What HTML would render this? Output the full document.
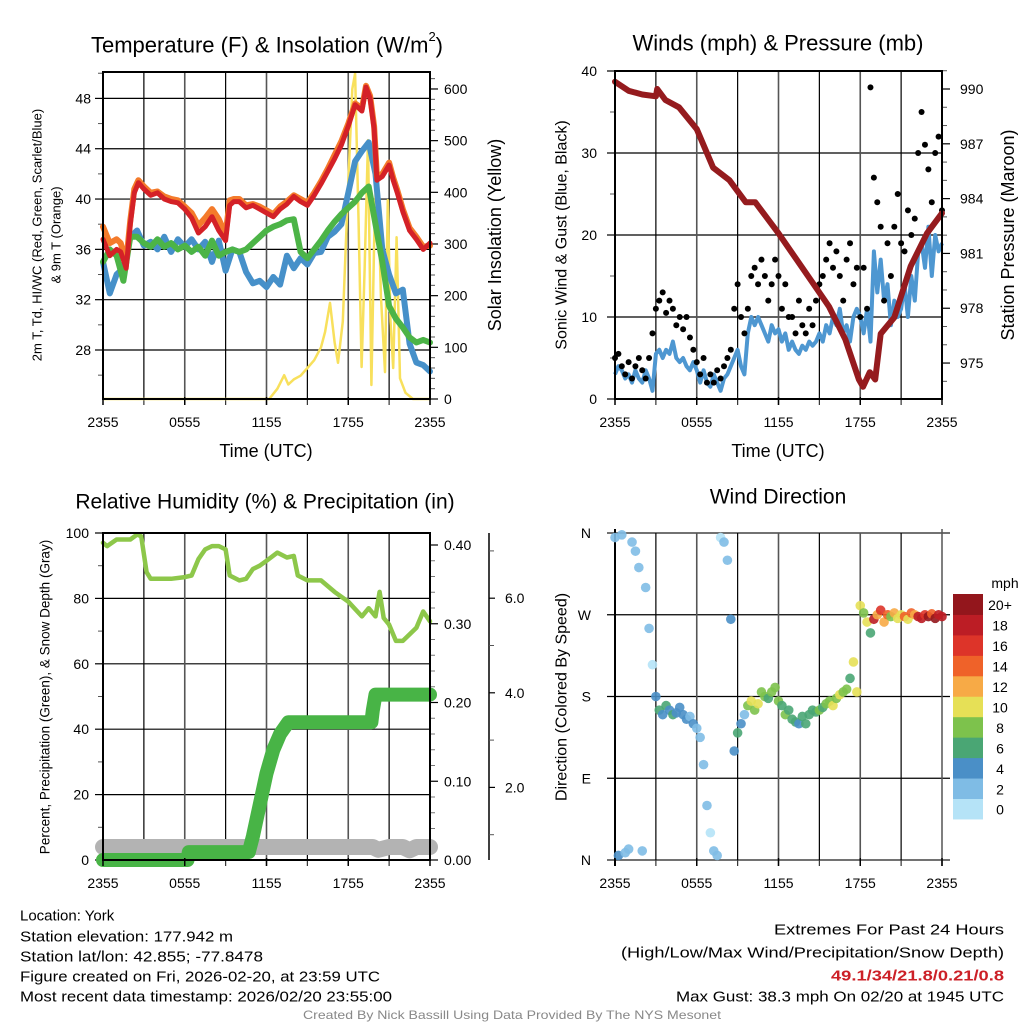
<!DOCTYPE html>
<html><head><meta charset="utf-8"><title>York Mesonet Meteogram</title>
<style>
html,body{margin:0;padding:0;background:#fff;}
svg{display:block;font-family:"Liberation Sans",Arial,sans-serif;}
</style></head>
<body>
<svg id="chart" width="1024" height="1024" viewBox="0 0 1024 1024" xmlns="http://www.w3.org/2000/svg"></svg>
<script>
// ---------- DATA ----------
const hoursQ = Array.from({length:97},(_,i)=>i*0.25);
const hoursH = Array.from({length:49},(_,i)=>i*0.5);
const timeTickLabels = ["2355","0555","1155","1755","2355"];

const tempTimes = [0,0.5,1,1.3,1.7,2,2.3,2.6,3,3.5,4,4.5,5,5.5,6,6.5,7,7.5,8,8.5,9,9.3,9.6,10,10.5,11,11.5,12,12.5,13,13.5,14,14.5,15,15.5,16,16.5,17,17.5,18,18.5,19,19.3,19.6,19.9,20.1,20.5,21,21.3,21.6,22,22.5,23,23.5,24];
const airTemp = [36.8,35.5,36,35.8,34.5,38,40.5,41.3,40.8,40.3,40.5,40,39.8,39.7,39.2,38.5,37.3,37.8,38.6,37.5,36.7,39.5,39.8,39.8,39.3,39.5,39.2,38.9,38.6,39.2,39.6,40.2,39.8,39.5,40.3,41.2,42.2,43.2,44.3,45.8,47.5,47,48.9,48,45.6,41.5,41.8,42.7,41.5,40.5,39,37.5,36.8,36,36.5];
const temp9m = [37.8,36.5,36.8,36.5,35,38.3,40.8,41.5,41,40.5,40.6,40.2,40,39.9,39.4,38.9,37.9,38.5,39.2,38.4,37.2,39.9,40,40,39.5,39.6,39.4,39.1,38.8,39.4,39.8,40.3,40,39.7,40.5,41.4,42.4,43.5,44.6,46,47.6,47.2,49,48.2,45.8,41.8,42,42.9,41.7,40.7,39.2,37.7,37,36.2,36.3];
const hiwc = [35,36,35.5,33.5,37,37,36.5,36.2,36.8,36.2,36.5,36,36.3,35.8,36.2,35.5,36.7,35.5,35.8,36,35.8,36,36.5,37,37.5,37.8,38,38.3,38.4,35.8,35.3,36,36.7,37.5,38.2,38.8,39.3,39.8,40.5,41,38,35,31.5,30.5,29.8,29,28.6,28.8,28.6];
const dewpt = [35,32.5,34,34.5,37,37.5,36.3,36.6,36,37,35.8,36.8,36.2,36.8,36,36.6,35,36.7,34.3,36,35.8,34.2,33.3,33.5,33,33.8,33.2,35.5,34.5,35.3,34.8,35.7,35.8,37,37.4,38,40.5,43,43.8,44.5,42,36,34,32.5,32.8,28.5,27,26.8,26.3];
const solarTimes = [0,12.2,12.8,13.3,13.6,14,14.5,15,15.5,16,16.3,16.66,17,17.25,17.6,18,18.3,18.5,18.75,18.98,19.2,19.45,19.7,19.9,20.1,20.4,20.7,20.9,21.1,21.3,21.55,21.8,22.2,22.75,24];
const solar = [0,0,20,46,28,38,45,60,75,100,130,186,110,70,150,420,600,630,350,62,250,501,27,300,488,200,52,385,150,60,313,40,12,0,0];
const tempTicks = [28,32,36,40,44,48];
const solarTicks = [0,100,200,300,400,500,600];

const pressTimes = [0,1,2,3,3.1,3.7,4.7,6,7.2,8.4,9.6,10.3,12,13.2,14.5,15.7,16.9,17.9,18.2,18.7,19.1,19.5,20.5,21.7,22.9,24];
const pressure = [990.4,989.9,989.7,989.6,990,989.4,989,987.8,985.7,985,983.8,983.8,982.1,980.8,979.4,978.1,976.3,974.1,973.7,974.5,974.1,976.6,977.5,980.3,982.1,983.2];
const windSpeed = [3,4,3.5,2.5,3,2,3.5,2.5,2,3.5,2.5,1,
 5.5,6,5,6,5.5,7,5,4.5,5,4,3.5,4.5,
 3.5,2,3.5,2,1.5,3,2,1,2.5,3,4,5,
 6,4,3,8,10,9,10,9,8,7,9,8,
 8.5,7,8,6,7,6,5.5,6.5,6,7,6.5,7,
 8,7,9,8,10,9,11,8,9,7,10,11,
 10,8,11,7,18,13,17,12,14,9,12,10,
 11,14,10,15,12,18,19,16,21,15,20,18,19];
const windGust = [5,5.5,4,3,4.5,2.5,4,5,3.5,2.5,5,8,
 11,12,13,10.5,12,11,9,10,8.5,10,7.5,6,
 4.5,3,5,2,3,2,3.5,2.5,4,5,6,11,
 14,10,8,11,15,16,14,17,15,12,14,17,
 15,11,14,10,10,8,12,9,8,11,9,12,
 14,15,17,19,16,18,15,12,17,19,14,16,
 10,16,11,38,27,24,21,12,19,15,21,25,
 19,18,23,20,22,30,35,31,28,24,30,32,23];
const windTicks = [0,10,20,30,40];
const pressTicks = [975,978,981,984,987,990];

const rhTimes = [0,0.3,1,2,2.5,2.8,3.2,3.5,4,5,6,6.5,7,7.5,8,8.5,9,9.3,10,10.5,11,11.5,12,12.8,13.5,14,14.3,15,16,17,18,19,19.5,20,20.3,20.6,21,21.5,22,23,23.5,24];
const rh = [97,96,98,98,99.5,99,88,86,86,86,86.5,87,92,95,96,96,95,87,85.5,86,89,90,91.5,94,92.5,93,87,85.5,85.5,82,79,74.5,77,74.5,82,74,72,67,67,71,76,73];
const precipTimes = [0,6.2,6.3,10.7,11,11.5,12,12.5,13,13.6,19.7,19.8,20,24];
const precip = [0,0,0.01,0.01,0.03,0.07,0.11,0.14,0.16,0.175,0.175,0.19,0.21,0.21];
const snowTimes = [0,4,8,12,16,19.8,20.2,21,22,22.5,23,24];
const snowDepth = [0.74,0.74,0.74,0.74,0.74,0.74,0.68,0.74,0.74,0.67,0.74,0.74];
const rhTicks = [0,20,40,60,80,100];
const precipTicks = ["0.00","0.10","0.20","0.30","0.40"];
const snowTicks = ["2.0","4.0","6.0"];

const windDir = [355,5,358,8,12,350,340,322,10,300,255,215,
 180,165,160,170,165,160,162,168,160,155,158,150,
 145,135,105,60,30,10,5,355,350,330,265,120,
 140,150,160,170,175,165,172,185,180,178,185,190,
 175,170,160,165,155,152,150,158,150,160,165,163,
 165,168,172,175,170,178,182,185,188,200,218,185,
 280,272,262,250,265,270,275,262,270,268,272,266,
 270,268,265,272,270,268,266,270,268,271,266,270,268];
const dirLabels = ["N","E","S","W","N"];
const speedBins = ["0","2","4","6","8","10","12","14","16","18","20+"];
const binColors = ["#b5e3f7","#7fbce5","#4a8fc7","#4aa674","#7dc24c","#e6e056","#f7aa46","#ef6229","#dd3429","#bc1d25","#93161c"];

// ---------- HELPERS ----------
const NS = "http://www.w3.org/2000/svg";
const svg = document.getElementById("chart");
function mk(tag, attrs, name, parent){
  const el = document.createElementNS(NS, tag);
  for (const k in attrs) el.setAttribute(k, attrs[k]);
  
  
  (parent||svg).appendChild(el);
  return el;
}
function txt(x,y,s,size,name,opts){
  opts = opts||{};
  const t = mk("text",{x:x,y:y,"font-size":size,fill:opts.fill||"#000","text-anchor":opts.anchor||"middle","dominant-baseline":"central"},name);
  if(opts.bold) t.setAttribute("font-weight","bold");
  if(opts.rot) t.setAttribute("transform","rotate(-90 "+x+" "+y+")");
  if(opts.len){ t.setAttribute("textLength",opts.len); t.setAttribute("lengthAdjust","spacingAndGlyphs"); }
  t.textContent = s;
  return t;
}
function pathFrom(ts, vs, xf, yf){
  return ts.map((t,i)=>(i?"L":"M")+xf(t).toFixed(1)+","+yf(vs[i]).toFixed(1)).join(" ");
}
function frame(x0,y0,x1,y1,name){
  mk("rect",{x:x0,y:y0,width:x1-x0,height:y1-y0,fill:"none",stroke:"#000","stroke-width":2},name);
}
function vgrid(x0,x1,y0,y1,name){
  for(let k=1;k<8;k++){ const x=x0+(x1-x0)*k/8;
    mk("line",{x1:x,y1:y0,x2:x,y2:y1,stroke:k%2?"#000":"#555","stroke-width":k%2?1.2:1.6},name);
    mk("line",{x1:x,y1:y1,x2:x,y2:y1+6,stroke:"#333","stroke-width":1.2},name+"-tick");
  }
}
function timeTicks(x0,x1,y,name){
  timeTickLabels.forEach((l,i)=>{ const x=x0+(x1-x0)*i/4;
    mk("line",{x1:x,y1:y-2,x2:x,y2:y+6,stroke:"#000","stroke-width":1.5},name+"-tick");
    txt(x,y+23,l,14,name+"-label");
  });
}

// ---------- PANEL 1: Temperature ----------
(function(){
  const X0=103,X1=430,Y0=72,Y1=399;
  const x=h=>X0+h*(X1-X0)/24;
  const y=T=>350-(T-28)*12.58;
  const ys=s=>399-s*0.5167;
  const title = txt(267,45,"",22,"temp-title");
  title.appendChild(document.createTextNode("Temperature (F) & Insolation (W/m"));
  const sup = document.createElementNS(NS,"tspan");
  sup.setAttribute("font-size","13");
  sup.setAttribute("dy","-9");
  
  
  sup.textContent = "2";
  title.appendChild(sup);
  const par = document.createElementNS(NS,"tspan");
  par.setAttribute("dy","9");
  
  
  par.textContent = ")";
  title.appendChild(par);
  tempTicks.forEach(v=>{ mk("line",{x1:X0,y1:y(v),x2:X1,y2:y(v),stroke:"#000","stroke-width":1.2},"temp-gridline");
    mk("line",{x1:X0-8,y1:y(v),x2:X0,y2:y(v),stroke:"#000","stroke-width":1.2},"temp-tick");
    txt(X0-12,y(v),String(v),14,"temp-tick-label",{anchor:"end"}); });
  [26,30,34,38,42,46,50].forEach(v=>{ if(y(v)>Y0) mk("line",{x1:X0-5,y1:y(v),x2:X0,y2:y(v),stroke:"#555"},"temp-minor-tick"); });
  vgrid(X0,X1,Y0,Y1,"temp-vgrid");
  solarTicks.forEach(v=>{ mk("line",{x1:X1,y1:ys(v),x2:X1+8,y2:ys(v),stroke:"#000","stroke-width":1.2},"solar-tick");
    txt(X1+14,ys(v),String(v),14,"solar-tick-label",{anchor:"start"}); });
  for(let v=20;v<630;v+=20){ if(v%100) mk("line",{x1:X1,y1:ys(v),x2:X1+5,y2:ys(v),stroke:"#555"},"solar-minor-tick"); }
  mk("path",{d:pathFrom(solarTimes,solar,x,ys),fill:"none",stroke:"#f8e05c","stroke-width":2.5,"stroke-linejoin":"round"},"solar-line");
  mk("path",{d:pathFrom(hoursH,dewpt,x,y),fill:"none",stroke:"#4690c9","stroke-width":6,"stroke-linejoin":"round","stroke-linecap":"round"},"dewpoint-line");
  mk("path",{d:pathFrom(hoursH,hiwc,x,y),fill:"none",stroke:"#4cb447","stroke-width":6,"stroke-linejoin":"round","stroke-linecap":"round"},"hiwc-line");
  mk("path",{d:pathFrom(tempTimes,temp9m,x,y),fill:"none",stroke:"#f47b2b","stroke-width":6,"stroke-linejoin":"round","stroke-linecap":"round"},"temp-9m-line");
  mk("path",{d:pathFrom(tempTimes,airTemp,x,y),fill:"none",stroke:"#d42127","stroke-width":5,"stroke-linejoin":"round","stroke-linecap":"round"},"temp-2m-line");
  frame(X0,Y0,X1,Y1,"temp-plot-frame");
  timeTicks(X0,X1,Y1,"temp-x");
  txt(266,451,"Time (UTC)",18,"temp-x-title");
  txt(37,235,"2m T, Td, HI/WC (Red, Green, Scarlet/Blue)",13,"temp-y-title",{rot:true});
  txt(56,235,"& 9m T (Orange)",13,"temp-y-title-line2",{rot:true});
  txt(495,235,"Solar Insolation (Yellow)",18,"solar-y-title",{rot:true});
})();

// ---------- PANEL 2: Winds & Pressure ----------
(function(){
  const X0=615,X1=942,Y0=71,Y1=399;
  const x=h=>X0+h*(X1-X0)/24;
  const y=v=>399-v*8.2;
  const yp=p=>89+(990-p)*18.27;
  txt(778,43,"Winds (mph) & Pressure (mb)",22,"wind-title");
  windTicks.forEach(v=>{ if(v>0&&v<40) mk("line",{x1:X0,y1:y(v),x2:X1,y2:y(v),stroke:"#000","stroke-width":1.2},"wind-gridline");
    mk("line",{x1:X0-8,y1:y(v),x2:X0,y2:y(v),stroke:"#000","stroke-width":1.2},"wind-tick");
    txt(X0-18,y(v),String(v),14,"wind-tick-label",{anchor:"end"}); });
  [5,15,25,35].forEach(v=>mk("line",{x1:X0-5,y1:y(v),x2:X0,y2:y(v),stroke:"#555"},"wind-minor-tick"));
  vgrid(X0,X1,Y0,Y1,"wind-vgrid");
  pressTicks.forEach(v=>{ mk("line",{x1:X1,y1:yp(v),x2:X1+8,y2:yp(v),stroke:"#000","stroke-width":1.2},"pressure-tick");
    txt(X1+18,yp(v),String(v),14,"pressure-tick-label",{anchor:"start"}); });
  for(let p=974;p<=991;p++){ if((p-975)%3) mk("line",{x1:X1,y1:yp(p),x2:X1+5,y2:yp(p),stroke:"#555"},"pressure-minor-tick"); }
  mk("path",{d:pathFrom(hoursQ,windSpeed,x,y),fill:"none",stroke:"#4e97d1","stroke-width":4,"stroke-linejoin":"round"},"sonic-wind-line");
  hoursQ.forEach((h,i)=>{ mk("circle",{cx:x(h),cy:y(windGust[i]),r:3,fill:"#000"},"gust-point"); });
  mk("path",{d:pathFrom(pressTimes,pressure,x,yp),fill:"none",stroke:"#951b1e","stroke-width":6,"stroke-linejoin":"round","stroke-linecap":"round"},"pressure-line");
  frame(X0,Y0,X1,Y1,"wind-plot-frame");
  timeTicks(X0,X1,Y1,"wind-x");
  txt(778,451,"Time (UTC)",18,"wind-x-title");
  txt(562,235,"Sonic Wind & Gust (Blue, Black)",16,"wind-y-title",{rot:true});
  txt(1008,235,"Station Pressure (Maroon)",18,"pressure-y-title",{rot:true});
})();

// ---------- PANEL 3: RH & Precip ----------
(function(){
  const X0=103,X1=430,Y0=533,Y1=860;
  const x=h=>X0+h*(X1-X0)/24;
  const y=v=>860-v*3.27;
  const yp=p=>860-p*787.5;
  const ysn=s=>882-s*47.3;
  txt(265,502,"Relative Humidity (%) & Precipitation (in)",21,"rh-title");
  rhTicks.forEach(v=>{ if(v>0&&v<100) mk("line",{x1:X0,y1:y(v),x2:X1,y2:y(v),stroke:"#000","stroke-width":1.2},"rh-gridline");
    mk("line",{x1:X0-8,y1:y(v),x2:X0,y2:y(v),stroke:"#000","stroke-width":1.2},"rh-tick");
    txt(X0-14,y(v),String(v),14,"rh-tick-label",{anchor:"end"}); });
  [10,30,50,70,90].forEach(v=>mk("line",{x1:X0-5,y1:y(v),x2:X0,y2:y(v),stroke:"#555"},"rh-minor-tick"));
  vgrid(X0,X1,Y0,Y1,"rh-vgrid");
  precipTicks.forEach(l=>{ const v=parseFloat(l);
    mk("line",{x1:X1,y1:yp(v),x2:X1+8,y2:yp(v),stroke:"#000","stroke-width":1.2},"precip-tick");
    txt(X1+14,yp(v),l,14,"precip-tick-label",{anchor:"start"}); });
  for(let k=1;k<21;k++){ if(k%5) mk("line",{x1:X1,y1:yp(k*0.02),x2:X1+5,y2:yp(k*0.02),stroke:"#777"},"precip-minor-tick"); }
  mk("line",{x1:489,y1:533,x2:489,y2:860,stroke:"#000","stroke-width":1.5},"snow-axis");
  snowTicks.forEach(l=>{ const v=parseFloat(l);
    mk("line",{x1:489,y1:ysn(v),x2:495,y2:ysn(v),stroke:"#000","stroke-width":1.2},"snow-tick");
    txt(505,ysn(v),l,14,"snow-tick-label",{anchor:"start"}); });
  [1,3,5,7].forEach(v=>mk("line",{x1:489,y1:ysn(v),x2:494,y2:ysn(v),stroke:"#555"},"snow-minor-tick"));
  mk("path",{d:pathFrom(snowTimes,snowDepth,x,ysn),fill:"none",stroke:"#b3b3b3","stroke-width":16,"stroke-linejoin":"round","stroke-linecap":"round"},"snow-depth-line");
  mk("path",{d:pathFrom(precipTimes,precip,x,yp),fill:"none",stroke:"#48b446","stroke-width":14,"stroke-linejoin":"round","stroke-linecap":"round"},"precip-line");
  mk("path",{d:pathFrom(rhTimes,rh,x,y),fill:"none",stroke:"#8dc74a","stroke-width":4.5,"stroke-linejoin":"round","stroke-linecap":"round"},"rh-line");
  frame(X0,Y0,X1,Y1,"rh-plot-frame");
  timeTicks(X0,X1,Y1,"rh-x");
  txt(45,697,"Percent, Precipitation (Green), & Snow Depth (Gray)",13.5,"rh-y-title",{rot:true});
})();

// ---------- PANEL 4: Wind Direction ----------
(function(){
  const X0=615,X1=942,Y0=533,Y1=860;
  const x=h=>X0+h*(X1-X0)/24;
  const y=d=>860-d*(Y1-Y0)/360;
  txt(778,497,"Wind Direction",21,"winddir-title");
  dirLabels.forEach((l,i)=>{ const yy=y(i*90);
    if(i>0&&i<4) mk("line",{x1:X0-8,y1:yy,x2:X1+8,y2:yy,stroke:"#000","stroke-width":1.2},"winddir-gridline");
    else mk("line",{x1:X0-8,y1:yy,x2:X1+8,y2:yy,stroke:"#444","stroke-width":1.5},"winddir-edge-line");
    txt(X0-24,yy,l,14,"winddir-tick-label",{anchor:"end"}); });
  vgrid(X0,X1,Y0,Y1,"winddir-vgrid");
  mk("line",{x1:X0,y1:Y0-4,x2:X0,y2:Y1+6,stroke:"#000","stroke-width":2},"winddir-left-axis");
  mk("line",{x1:X1,y1:Y0-4,x2:X1,y2:Y1+6,stroke:"#555","stroke-width":1.5},"winddir-right-axis");
  hoursQ.forEach((h,i)=>{ const b=Math.min(10,Math.floor(windSpeed[i]/2));
    mk("circle",{cx:x(h),cy:y(windDir[i]),r:4.8,fill:binColors[b],"fill-opacity":0.9},"winddir-point"); });
  timeTicks(X0,X1,Y1,"winddir-x");
  txt(562,697,"Direction (Colored By Speed)",16,"winddir-y-title",{rot:true});
  const cbTop=594, cbH=20.45;
  txt(1005,583,"mph",14,"colorbar-title");
  speedBins.forEach((l,i)=>{ const yy=cbTop+(10-i)*cbH;
    mk("rect",{x:953,y:yy,width:30,height:cbH+0.5,fill:binColors[i]},"colorbar-bin");
    txt(1000,yy+cbH/2+1,l,14,"colorbar-label");
  });
})();

// ---------- FOOTER ----------
txt(20,916,"Location: York",15,"location-text",{anchor:"start"});
txt(20,937,"Station elevation: 177.942 m",15,"elevation-text",{anchor:"start",len:213});
txt(20,957,"Station lat/lon: 42.855; -77.8478",15,"latlon-text",{anchor:"start",len:243});
txt(20,977,"Figure created on Fri, 2026-02-20, at 23:59 UTC",15,"created-text",{anchor:"start",len:360});
txt(20,997,"Most recent data timestamp: 2026/02/20 23:55:00",15,"timestamp-text",{anchor:"start",len:372});
txt(1004,930,"Extremes For Past 24 Hours",15,"extremes-title",{anchor:"end",len:230});
txt(1004,953,"(High/Low/Max Wind/Precipitation/Snow Depth)",15,"extremes-subtitle",{anchor:"end",len:383});
txt(1004,976,"49.1/34/21.8/0.21/0.8",15,"extremes-values",{anchor:"end",fill:"#cc2027",bold:true,len:173});
txt(1004,997,"Max Gust: 38.3 mph On 02/20 at 1945 UTC",15,"max-gust-text",{anchor:"end",len:328});
txt(512,1015,"Created By Nick Bassill Using Data Provided By The NYS Mesonet",12,"credit-text",{fill:"#888",len:418});
</script>
</body></html>
